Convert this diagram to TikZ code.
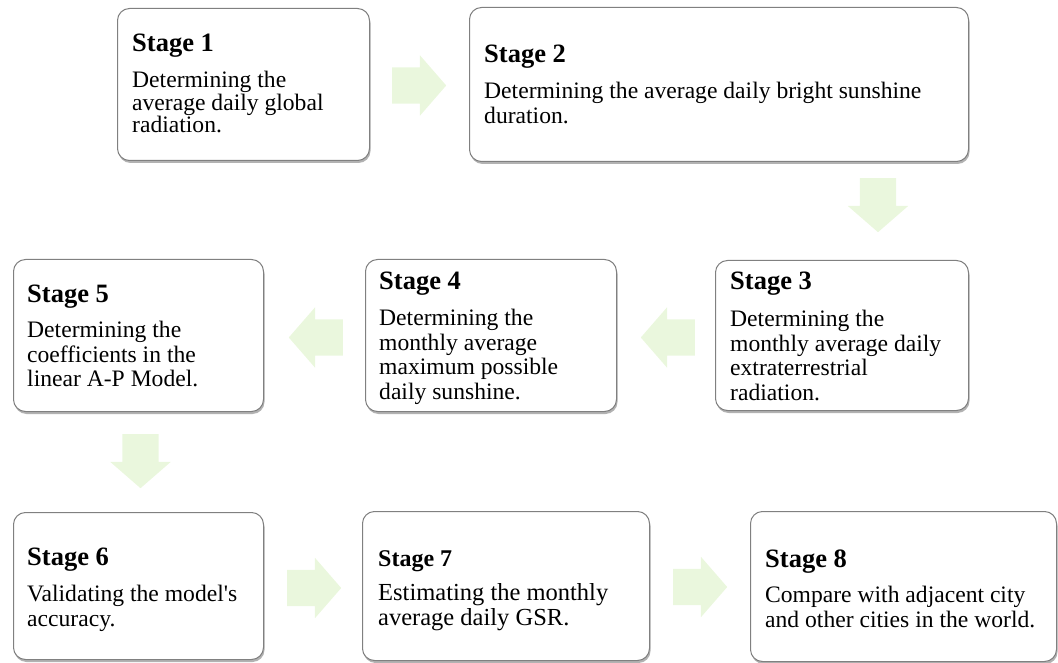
\documentclass[tikz,border=0pt]{standalone}
\usepackage{fontspec}
\setmainfont{Liberation Serif}
\newfontfamily\straightquote{Liberation Serif}[Ligatures=TeXOff]
\usepackage{xcolor}
\usetikzlibrary{calc,
	positioning,
	shapes.arrows,
	shadows}

\definecolor{boxline}{RGB}{128,128,128}
\definecolor{arrowgreen}{RGB}{234,247,221}

\begin{document}
\begin{tikzpicture}[x=1pt, y=-1pt,
		stagebox/.style={draw=boxline, line width=1pt, fill=white, rounded corners=12pt, anchor=north west, inner sep=0pt,
			drop shadow={shadow xshift=1pt, shadow yshift=-2.5pt, fill=black!55, opacity=0.55}},
		title/.style={anchor=base west, inner sep=0pt, font=\fontsize{26.5}{28}\selectfont\bfseries},
		body/.style={anchor=north west, inner sep=0pt, align=left, font=\fontsize{23.6}{24.5}\selectfont},
		flowarrow/.style={single arrow, fill=arrowgreen, draw=none, inner xsep=0pt, inner ysep=18pt,
			minimum height=54pt, single arrow head extend=12pt, single arrow tip angle=98, anchor=tail}]
	\useasboundingbox (0, 0) rectangle (1058, 663);

	% first row
	\node[stagebox, minimum width=252pt, minimum height=152pt] (s1) at (117, 8) {};
	\node[title] (t1) at ($(s1.north west) + (15, 44)$) {Stage 1};
	\node[body, font=\fontsize{23.6}{20.5}\selectfont] (b1) at ($(t1.base west) + (0, 19)$) {Determining the\\average daily global\\radiation.};

	\node[stagebox, minimum width=499pt, minimum height=154pt] (s2) at (469, 7) {};
	\node[title] (t2) at ($(s2.north west) + (15, 56)$) {Stage 2};
	\node[body] (b2) at ($(t2.base west) + (0, 19)$) {Determining the average daily bright sunshine\\duration.};

	% second row
	\node[stagebox, minimum width=253pt, minimum height=150pt] (s3) at (715, 260) {};
	\node[title] (t3) at ($(s3.north west) + (15, 30)$) {Stage 3};
	\node[body] (b3) at ($(t3.base west) + (0, 20)$) {Determining the\\monthly average daily\\extraterrestrial\\radiation.};

	\node[stagebox, minimum width=251pt, minimum height=152pt] (s4) at (365, 259) {};
	\node[title] (t4) at ($(s4.north west) + (14, 31)$) {Stage 4};
	\node[body] (b4) at ($(t4.base west) + (0, 19)$) {Determining the\\monthly average\\maximum possible\\daily sunshine.};

	\node[stagebox, minimum width=250pt, minimum height=152pt] (s5) at (13, 259) {};
	\node[title] (t5) at ($(s5.north west) + (14, 43)$) {Stage 5};
	\node[body] (b5) at ($(t5.base west) + (0, 19)$) {Determining the\\coefficients in the\\linear A-P Model.};

	% third row
	\node[stagebox, minimum width=250pt, minimum height=147pt] (s6) at (13, 512) {};
	\node[title] (t6) at ($(s6.north west) + (14, 53)$) {Stage 6};
	\node[body] (b6) at ($(t6.base west) + (0, 20)$) {Validating the model{\straightquote '}s\\accuracy.};

	\node[stagebox, minimum width=287pt, minimum height=149pt] (s7) at (362, 511) {};
	\node[title, font=\fontsize{24}{26}\selectfont\bfseries] (t7) at ($(s7.north west) + (16, 55)$) {Stage 7};
	\node[body, font=\fontsize{24.5}{25}\selectfont] (b7) at ($(t7.base west) + (0, 17)$) {Estimating the monthly\\average daily GSR.};

	\node[stagebox, minimum width=306pt, minimum height=150pt] (s8) at (750, 511) {};
	\node[title] (t8) at ($(s8.north west) + (15, 56)$) {Stage 8};
	\node[body] (b8) at ($(t8.base west) + (0, 19)$) {Compare with adjacent city\\and other cities in the world.};

	% block arrows, placed by their tails
	\node[flowarrow] (a12) at ($(s1.east) + (22, 1)$) {};
	\node[flowarrow, rotate=-90] (a23) at ($(s2.south east) + (-91, 16)$) {};
	\node[flowarrow, rotate=180] (a34) at ($(s3.west) + (-20, 2)$) {};
	\node[flowarrow, rotate=180] (a45) at ($(s4.west) + (-22, 2)$) {};
	\node[flowarrow, rotate=-90] (a56) at ($(s5.south) + (2, 22)$) {};
	\node[flowarrow] (a67) at ($(s6.east) + (23, 2)$) {};
	\node[flowarrow] (a78) at ($(s7.east) + (23, 1)$) {};
\end{tikzpicture}
\end{document}
